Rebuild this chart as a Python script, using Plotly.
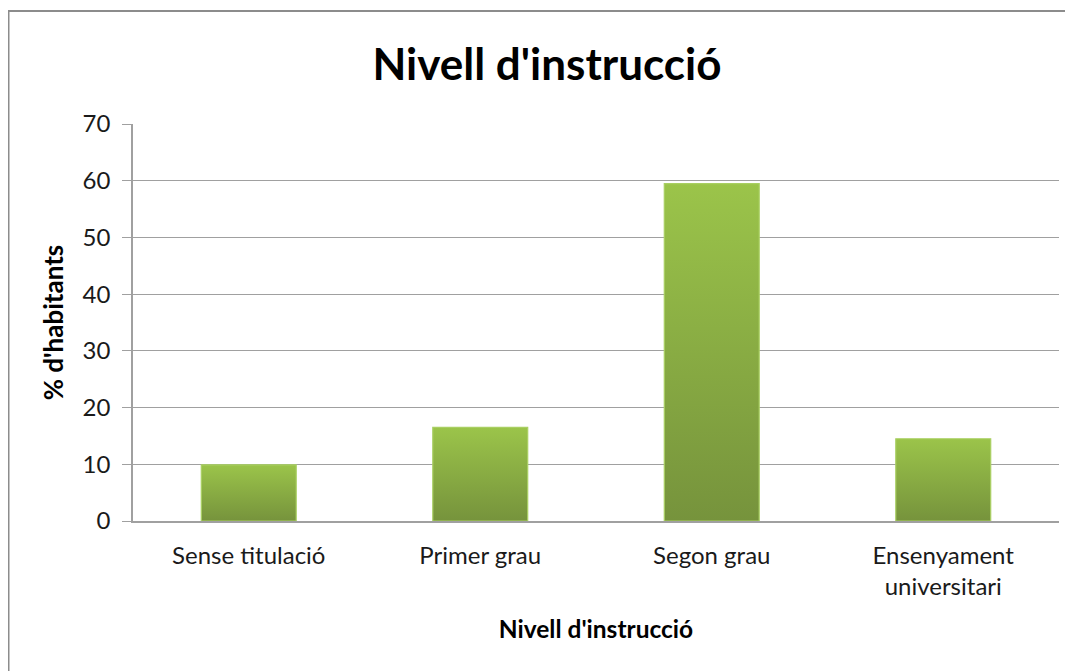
import plotly.graph_objects as go

# data
categories = ["Sense titulació", "Primer grau", "Segon grau", "Ensenyament<br>universitari"]
percent = [9.9, 16.5, 59.5, 14.5]

y_ticks = [0, 10, 20, 30, 40, 50, 60, 70]

FONT = "Lato"
half = 0.205  # half bar width in category units

# plot area in figure pixels (page adds an 8px body margin)
L, T, W, H = 125, 116, 926, 397

fig = go.Figure()

# bars as filled polygons so each one gets its own vertical gradient
for i, v in enumerate(percent):
    fig.add_trace(go.Scatter(
        x=[i - half, i - half, i + half, i + half, i - half],
        y=[0, v, v, 0, 0],
        mode="lines",
        fill="toself",
        line=dict(color="#A9CF62", width=1.2),
        fillgradient=dict(
            type="vertical",
            colorscale=[[0, "#76933C"], [1, "#9BC44A"]],
        ),
        hoverinfo="skip",
        showlegend=False,
    ))

# chart border (Excel-like frame)
fig.add_shape(
    type="rect", xref="paper", yref="paper",
    x0=(0.5 - L) / W, x1=(1100 - L) / W,
    y0=-0.6, y1=(T + H - 3) / H,
    line=dict(color="#8C8C8C", width=2),
    layer="below",
)

fig.update_layout(
    width=1073, height=671,
    margin=dict(l=L, r=1073 - L - W, t=T, b=671 - T - H),
    paper_bgcolor="white",
    plot_bgcolor="white",
    font=dict(family=FONT, color="#1A1A1A", size=22),
    title=dict(
        text="<b>Nivell d'instrucció</b>",
        font=dict(family=FONT, size=44, color="black"),
        x=539 / 1073, xanchor="center",
        y=1 - 57 / 671, yanchor="middle",
    ),
    showlegend=False,
)

fig.update_xaxes(
    range=[-0.5, 3.5],
    tickmode="array",
    tickvals=list(range(len(categories))),
    ticktext=categories,
    showgrid=False,
    zeroline=False,
    showline=True, linecolor="#A0A0A0", linewidth=1.5,
    ticks="", ticklabelstandoff=12,
    tickfont=dict(family=FONT, size=24, color="#1A1A1A"),
    title=dict(text="<b>Nivell d'instrucció</b>",
               font=dict(family=FONT, size=24.5, color="black"),
               standoff=22),
)

fig.update_yaxes(
    range=[0, 70],
    tickvals=y_ticks,
    showgrid=True, gridcolor="#A0A0A0", gridwidth=1.2,
    zeroline=False,
    showline=True, linecolor="#A0A0A0", linewidth=1.5,
    ticks="outside", ticklen=9, tickcolor="#A0A0A0",
    ticklabelstandoff=7,
    tickfont=dict(family=FONT, size=24, color="#1A1A1A"),
    title=dict(text="<b>% d'habitants</b>",
               font=dict(family=FONT, size=26, color="black"),
               standoff=12),
)

fig.write_html("out.html")
